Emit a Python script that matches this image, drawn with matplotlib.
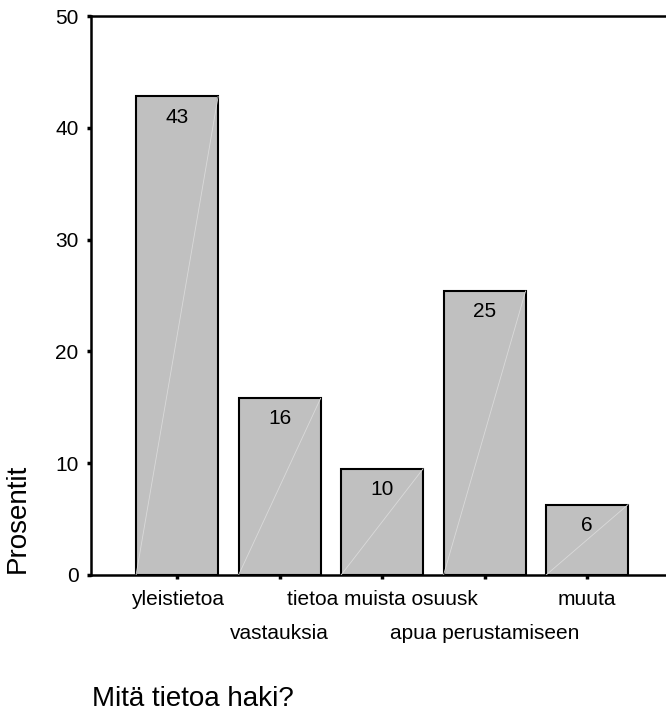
import matplotlib.pyplot as plt

# data
categories = ['yleistietoa', 'vastauksia', 'tietoa muista osuusk',
              'apua perustamiseen', 'muuta']
percent = [42.8, 15.8, 9.5, 25.4, 6.3]
bar_labels = ['43', '16', '10', '25', '6']
y_ticks = [0, 10, 20, 30, 40, 50]

plt.rcParams['font.family'] = ['Liberation Sans', 'DejaVu Sans']

fig = plt.figure(figsize=(6.66, 7.11), dpi=100)
ax = fig.add_axes([91 / 666, 136 / 711, 1 - 91 / 666, 559 / 711])

x = list(range(len(categories)))
bars = ax.bar(x, percent, width=0.8, color='#c0c0c0', edgecolor='black',
              linewidth=1.5, zorder=2)

# faint diagonal line inside each bar (bottom-left -> top-right)
for b in bars:
    x0, w, h = b.get_x(), b.get_width(), b.get_height()
    ax.plot([x0, x0 + w], [0, h], color='#dadada', linewidth=0.6, zorder=3)

for xi, v, lab in zip(x, percent, bar_labels):
    ax.annotate(lab, (xi, v), xytext=(0, -8), textcoords='offset points',
                ha='center', va='top', fontsize=15, zorder=4)

ax.set_xlim(-0.84, 4.77)
ax.set_ylim(0, 50)
ax.set_yticks(y_ticks)
ax.set_xticks(x)
ax.set_xticklabels(categories, fontsize=15)
ax.tick_params(axis='y', labelsize=15, length=3, width=2.5, direction='out', pad=6)
ax.tick_params(axis='x', length=3, width=2.5, direction='out', pad=8)
for i, t in enumerate(ax.xaxis.get_major_ticks()):
    if i % 2 == 1:
        t.set_pad(32)

for side in ['left', 'bottom', 'top']:
    ax.spines[side].set_linewidth(1.8)
ax.spines['right'].set_visible(False)

fig.text(18 / 666, 138 / 711, 'Prosentit', rotation=90, ha='center',
         va='bottom', fontsize=20)
fig.text(92 / 666, 5 / 711, 'Mitä tietoa haki?', ha='left', va='baseline',
         fontsize=20)

plt.savefig('out.png', dpi=100)
